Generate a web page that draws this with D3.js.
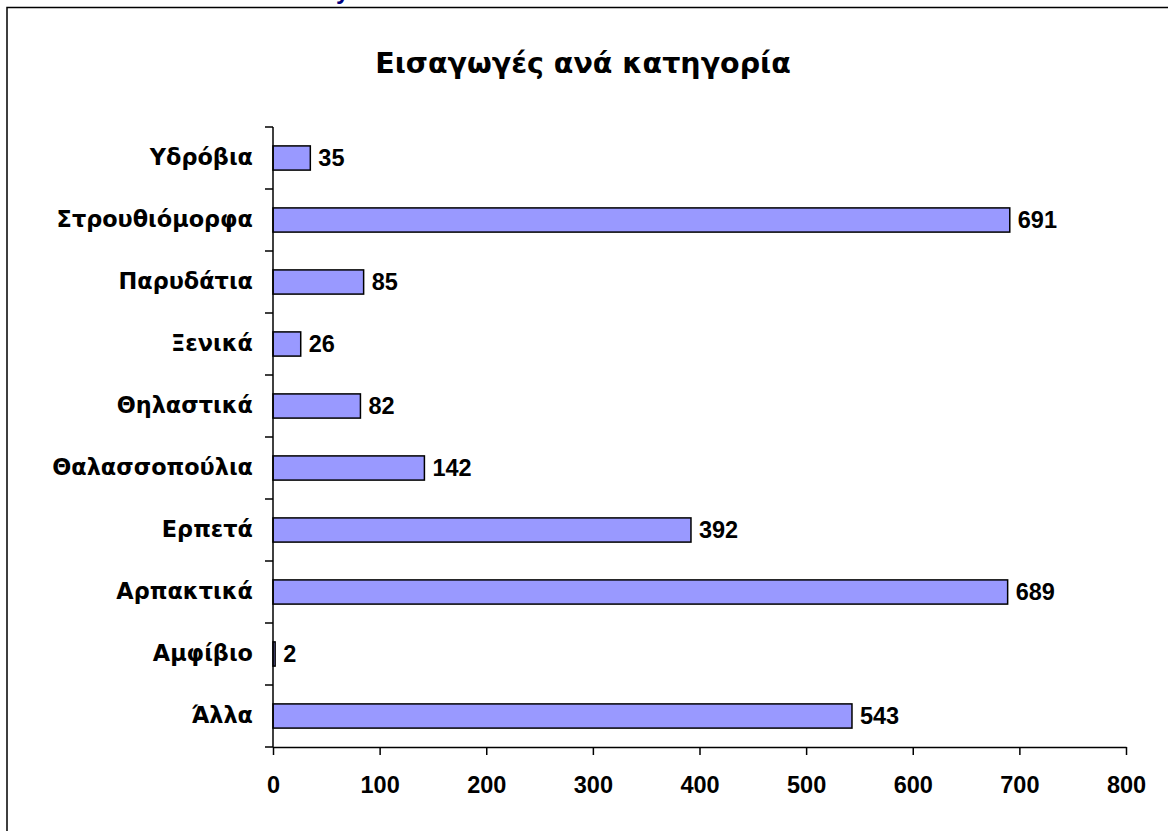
<!DOCTYPE html>
<html><head><meta charset="utf-8">
<script src="https://cdn.jsdelivr.net/npm/d3@7"></script>
<style>body{margin:0;background:#fff;} text{font-family:"Liberation Sans",Arial,sans-serif;font-weight:bold;}</style>
</head><body>
<svg id="c" width="1168" height="831"></svg>
<script>
const categories = ["Υδρόβια","Στρουθιόμορφα","Παρυδάτια","Ξενικά","Θηλαστικά","Θαλασσοπούλια","Ερπετά","Αρπακτικά","Αμφίβιο","Άλλα"];
const values = [35,691,85,26,82,142,392,689,2,543];
const xTicks = [0,100,200,300,400,500,600,700,800];
const title = "Εισαγωγές ανά κατηγορία";

const svg = d3.select("#c");
svg.append("rect").attr("x",7).attr("y",7.5).attr("width",1200).attr("height",900)
  .attr("fill","none").attr("stroke","#000").attr("stroke-width",1.5);
svg.append("text").attr("x",336).attr("y",-1).attr("fill","#000080").style("font-size","24px").text("y");

const x = d3.scaleLinear().domain([0,800]).range([273,1126]);
const y = d3.scaleBand().domain(categories).range([127,747]).paddingInner(0.61).paddingOuter(0.305);
const yb = d3.scaleBand().domain(categories).range([127,747]);

svg.append("text").attr("x",583).attr("y",73).attr("text-anchor","middle")
  .style("font-family","DejaVu Sans").style("font-size","28.5px").text(title);

svg.selectAll("rect.bar").data(categories).enter().append("rect").attr("class","bar")
  .attr("x",x(0)).attr("y",d=>y(d)).attr("width",(d,i)=>x(values[i])-x(0)).attr("height",y.bandwidth())
  .attr("fill","#9999FF").attr("stroke","#000").attr("stroke-width",1.5);

svg.selectAll("text.val").data(categories).enter().append("text").attr("class","val")
  .attr("x",(d,i)=>x(values[i])+8).attr("y",d=>yb(d)+yb.bandwidth()/2+8)
  .style("font-size","23.5px").text((d,i)=>values[i]);

svg.selectAll("text.cat").data(categories).enter().append("text").attr("class","cat")
  .attr("x",253).attr("y",d=>yb(d)+yb.bandwidth()/2+7).attr("text-anchor","end")
  .style("font-family","DejaVu Sans").style("font-size","22.4px").text(d=>d);

const ya = svg.append("g");
ya.append("line").attr("x1",273).attr("x2",273).attr("y1",127).attr("y2",747).attr("stroke","#000").attr("stroke-width",1.5);
const bounds = categories.map(d=>yb(d)).concat([747]);
ya.selectAll("line.t").data(bounds).enter().append("line").attr("class","t")
  .attr("x1",265).attr("x2",273).attr("y1",d=>d).attr("y2",d=>d).attr("stroke","#000").attr("stroke-width",1.5);

const xa = svg.append("g").attr("transform","translate(0,747)")
  .call(d3.axisBottom(x).tickValues(xTicks).tickSize(8).tickPadding(21).tickSizeOuter(0));
xa.select(".domain").attr("stroke-width",1.5);
xa.selectAll(".tick line").attr("stroke-width",1.5);
xa.selectAll(".tick text").style("font-size","23.5px").style("font-family","Liberation Sans, Arial, sans-serif").style("font-weight","bold").attr("fill","#000");
</script>
</body></html>
